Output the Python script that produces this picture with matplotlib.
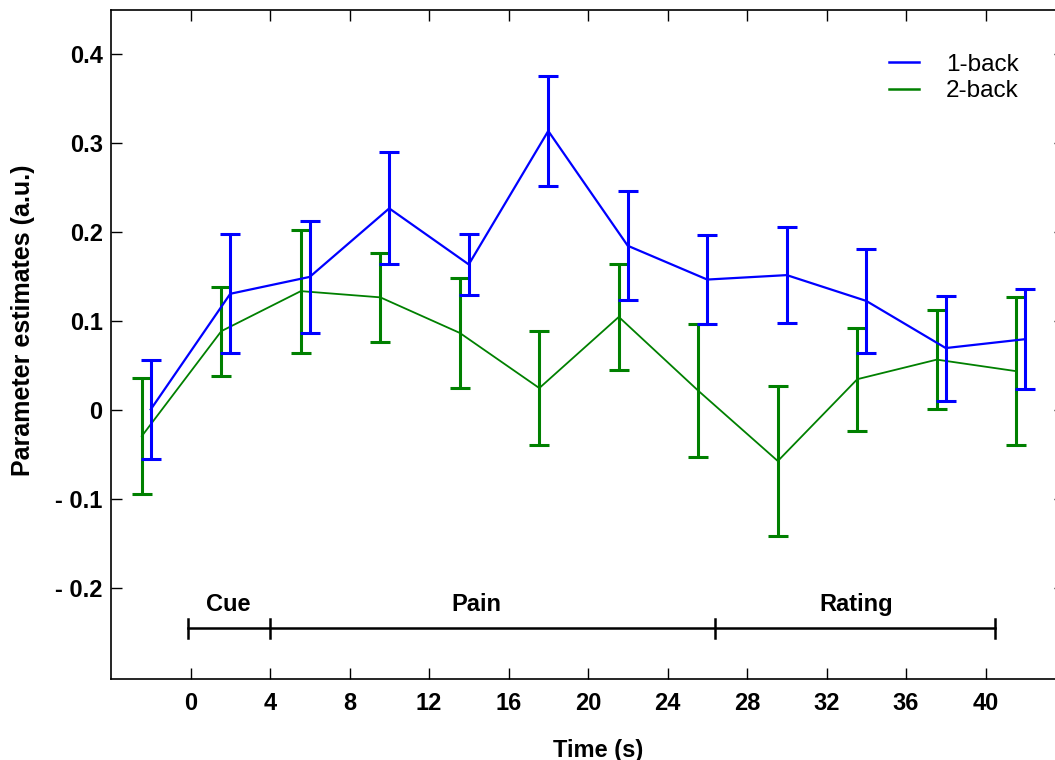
import matplotlib
matplotlib.use("Agg")
import matplotlib.pyplot as plt
from matplotlib.lines import Line2D
import numpy as np

# ---- data ----
time_1back = [-2, 2, 6, 10, 14, 18, 22, 26, 30, 34, 38, 42]
mean_1back = [0.001, 0.131, 0.150, 0.227, 0.164, 0.314, 0.185, 0.147, 0.152, 0.123, 0.070, 0.080]
err_1back = [0.056, 0.067, 0.063, 0.063, 0.034, 0.062, 0.061, 0.050, 0.054, 0.058, 0.059, 0.056]

time_2back = [-2.45, 1.55, 5.55, 9.55, 13.55, 17.55, 21.55, 25.55, 29.55, 33.55, 37.55, 41.55]
mean_2back = [-0.029, 0.089, 0.134, 0.127, 0.087, 0.025, 0.105, 0.022, -0.057, 0.035, 0.057, 0.044]
err_2back = [0.065, 0.050, 0.069, 0.050, 0.062, 0.064, 0.060, 0.075, 0.084, 0.058, 0.056, 0.083]

xticks = [0, 4, 8, 12, 16, 20, 24, 28, 32, 36, 40]
yticks = [-0.2, -0.1, 0.0, 0.1, 0.2, 0.3, 0.4]
ytick_labels = ["- 0.2", "- 0.1", "0", "0.1", "0.2", "0.3", "0.4"]

phase_names = ["Cue", "Pain", "Rating"]
phase_bounds = [-0.15, 4.0, 26.4, 40.5]
phase_label_x = [1.9, 14.4, 33.5]

plt.rcParams['font.family'] = ['Liberation Sans', 'DejaVu Sans']

fig = plt.figure(figsize=(10.55, 7.6), dpi=100)
ax = fig.add_axes([111/1055, 81/760, (1065-111)/1055, (679-10)/760])

blue = '#0000FF'
green = '#008000'

ax.errorbar(time_2back, mean_2back, yerr=err_2back, color=green, lw=1.3,
            elinewidth=2.2, capsize=7, capthick=2.2, zorder=3)
ax.errorbar(time_1back, mean_1back, yerr=err_1back, color=blue, lw=1.6,
            elinewidth=2.2, capsize=7, capthick=2.2, zorder=4)

# timeline
y_line = -0.245
ax.plot([phase_bounds[0], phase_bounds[-1]], [y_line, y_line], color='black', lw=1.8, zorder=2)
for b in phase_bounds:
    ax.plot([b, b], [y_line - 0.0105, y_line + 0.0105], color='black', lw=1.8, zorder=2)
for name, px in zip(phase_names, phase_label_x):
    ax.text(px, -0.218, name, ha='center', va='center', fontsize=17, fontweight='bold')

ax.set_xlim(-4, 44)
ax.set_ylim(-0.302, 0.45)
ax.set_xticks(xticks)
ax.set_xticklabels([str(t) for t in xticks], fontsize=17, fontweight='bold')
ax.set_yticks(yticks)
ax.set_yticklabels(ytick_labels, fontsize=17, fontweight='bold')
ax.tick_params(direction='in', length=8, width=1.0, top=True, right=True, colors='black')
ax.tick_params(axis='x', pad=9)
ax.tick_params(axis='y', pad=6)
for s in ax.spines.values():
    s.set_linewidth(1.2)
    s.set_color('black')

ax.set_xlabel("Time (s)", fontsize=17, fontweight='bold')
ax.set_ylabel("Parameter estimates (a.u.)", fontsize=18, fontweight='bold')
ax.xaxis.set_label_coords(598/1055, (760-750)/760, transform=fig.transFigure)
ax.yaxis.set_label_coords(23/1055, (760-320)/760, transform=fig.transFigure)
ax.xaxis.label.set_va('center')
ax.yaxis.label.set_va('center')

handles = [Line2D([], [], color=blue, lw=1.8), Line2D([], [], color=green, lw=1.8)]
leg = ax.legend(handles, ["1-back", "2-back"], loc='center left',
                bbox_to_anchor=(889/1055, (760-78)/760), bbox_transform=fig.transFigure,
                frameon=False, fontsize=17.5, handlelength=1.25, handletextpad=1.1,
                labelspacing=0.2, borderpad=0, borderaxespad=0)

fig.savefig("out.png", dpi=100)
